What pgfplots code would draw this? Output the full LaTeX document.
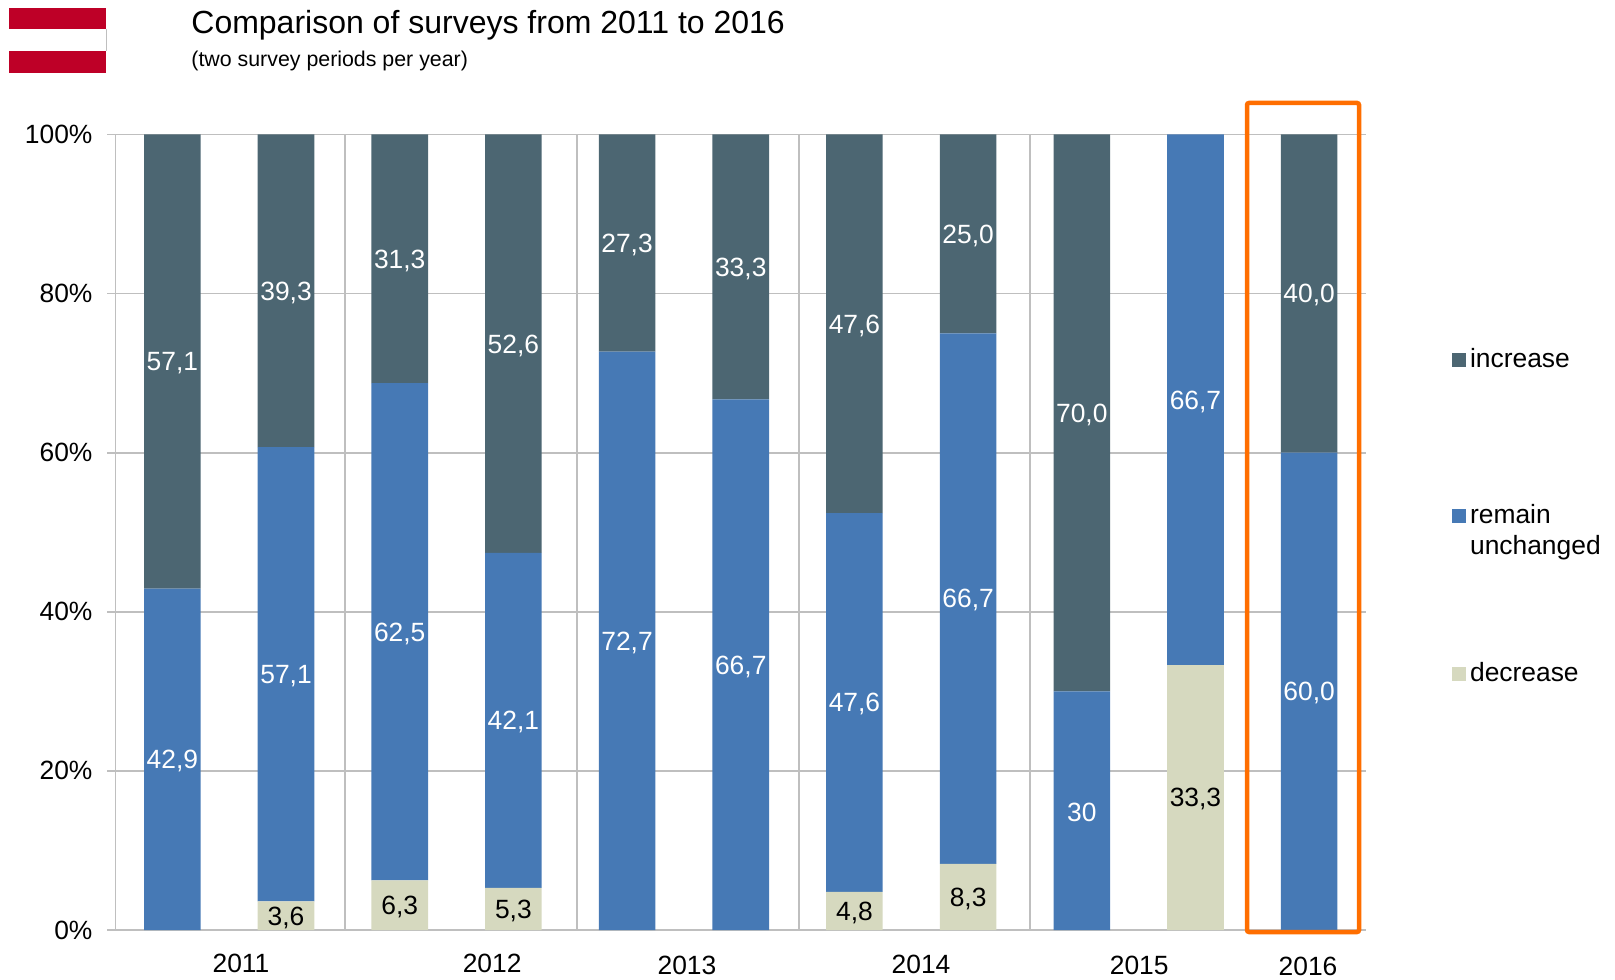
\documentclass[border=0pt]{standalone}
\usepackage{pgfplots}
\pgfplotsset{compat=1.18}
\usepackage{fontspec}
\setmainfont{Liberation Sans}
\definecolor{cinc}{HTML}{4C6672}
\definecolor{crem}{HTML}{4679B5}
\definecolor{cdec}{HTML}{D6D9BF}
\definecolor{cgrid}{HTML}{BFBFBF}
\definecolor{corange}{HTML}{FF6E00}
\definecolor{cred}{HTML}{BE0027}
\begin{document}
\begin{tikzpicture}
\path[use as bounding box] (0,0) rectangle (807.5pt,489.5pt);
\begin{axis}[
  at={(57.75pt,24.5pt)}, anchor=south west,
  scale only axis, width=625.25pt, height=397.75pt,
  xmin=-0.5, xmax=10.5, ymin=0, ymax=100,
  ybar stacked, bar width=28.3pt,
  clip=false,
  axis line style={draw=none},
  /pgf/number format/assume math mode=true,
  font=\fontsize{13.2pt}{15.5pt}\selectfont,
  ytick={0,20,40,60,80,100},
  yticklabel={\pgfmathprintnumber{\tick}\%},
  ymajorgrids, grid style={cgrid,line width=0.9pt},
  y tick style={cgrid,line width=0.9pt},
  ytick align=outside, ytick pos=left,
  major tick length=4pt,
  yticklabel style={xshift=-4pt},
  xtick={0.604,2.813,4.527,6.586,8.505,9.99},
  xticklabels={\raisebox{1pt}{2011},\raisebox{1pt}{2012},2013,\raisebox{0.5pt}{2014},2015,\raisebox{-0.5pt}{2016}},
  x tick style={draw=none},
  xticklabel style={anchor=base,yshift=-22pt},
  extra x ticks={-0.5,1.52,3.556,5.51,7.545},
  extra x tick labels={},
  extra x tick style={xmajorgrids=true,grid style={cgrid,line width=0.9pt}},
  nodes near coords,
  point meta=explicit symbolic,
  every node near coord/.style={anchor=center,inner sep=0pt,yshift=-0.9pt},
  legend style={at={(1.0685,0.737)},anchor=north west,draw=none,fill=none,inner sep=0pt,
    cells={anchor=base west},font=\fontsize{13.2pt}{15.5pt}\selectfont,row sep=63.95pt},
  legend image code/.code={\fill[#1] (0pt,0.3pt) rectangle (7pt,7.3pt);},
]
\addplot[forget plot,fill=cdec,draw=none,every node near coord/.append style={text=black}] table[x=x,y=v,meta=l] {
x v l
0 0 {}
1 3.6 3,6
2 6.25 6,3
3 5.3 5,3
4 0 {}
5 0 {}
6 4.8 4,8
7 8.3 8,3
8 0 {}
9 33.3 33,3
10 0 {}
};
\addplot[forget plot,fill=crem,draw=none,every node near coord/.append style={text=white}] table[x=x,y=v,meta=l] {
x v l
0 42.9 42,9
1 57.1 57,1
2 62.5 62,5
3 42.1 42,1
4 72.7 72,7
5 66.7 66,7
6 47.6 47,6
7 66.7 66,7
8 30 30
9 66.7 66,7
10 60.0 60,0
};
\addplot[forget plot,fill=cinc,draw=none,every node near coord/.append style={text=white}] table[x=x,y=v,meta=l] {
x v l
0 57.1 57,1
1 39.3 39,3
2 31.25 31,3
3 52.6 52,6
4 27.3 27,3
5 33.3 33,3
6 47.6 47,6
7 25.0 25,0
8 70.0 70,0
9 0 {}
10 40.0 40,0
};
\addlegendimage{fill=cinc,draw=none}
\addlegendentry{increase\rule[-13.15pt]{0pt}{0pt}}
\addlegendimage{fill=crem,draw=none}
\addlegendentry{\raisebox{0pt}[8.85pt][\depth]{\begin{tabular}[t]{@{}l@{}}remain\\unchanged\end{tabular}}}
\addlegendimage{fill=cdec,draw=none}
\addlegendentry{decrease}
\end{axis}
\begin{scope}[x=0.5pt,y=-0.5pt,yshift=489.5pt]
  \fill[cred] (9,8) rectangle (106,29.5);
  \fill[cred] (9,51) rectangle (106,72.7);
  \draw[black!25,line width=0.3pt] (106,29.5) -- (106,51);
  \draw[corange,line width=2.25pt,rounded corners=1pt] (1247,103) rectangle (1359,932);
  \node[anchor=base west,inner sep=0pt,font=\fontsize{16pt}{18pt}\selectfont] at (191,33.5) {Comparison of surveys from 2011 to 2016};
  \node[anchor=base west,inner sep=0pt,font=\fontsize{10.68pt}{12pt}\selectfont] at (191,67) {(two survey periods per year)};
\end{scope}
\end{tikzpicture}
\end{document}
